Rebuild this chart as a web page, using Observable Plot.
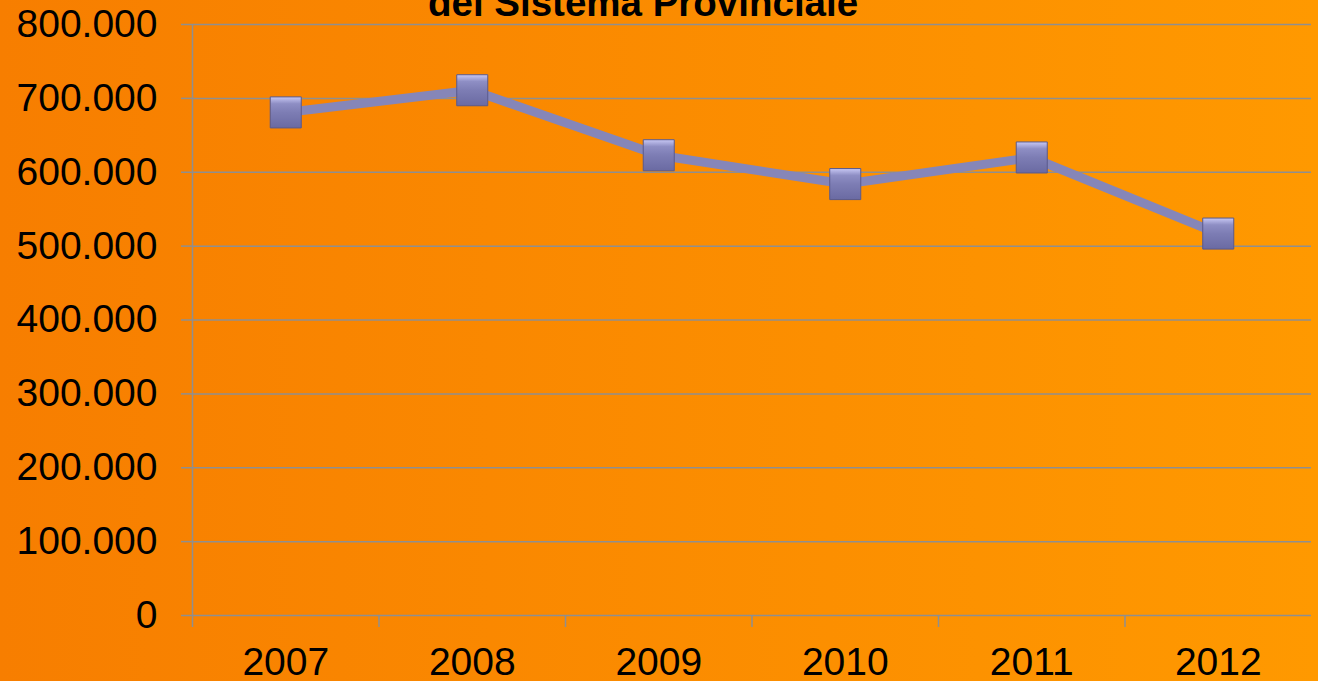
<!DOCTYPE html>
<html>
<head>
<meta charset="utf-8">
<script src="https://cdn.jsdelivr.net/npm/d3@7"></script>
<script src="https://cdn.jsdelivr.net/npm/@observablehq/plot@0.6"></script>
<style>
  html, body { margin: 0; padding: 0; width: 1318px; height: 681px; overflow: hidden; }
  body { background: linear-gradient(to right, #f77e00, #ff9900); position: relative;
         font-family: "Liberation Sans", Arial, sans-serif; }
  #title { position: absolute; left: 428px; top: -16px; font-size: 38.5px; line-height: 38px;
           font-weight: bold; color: #000; white-space: nowrap; }
  #chart { position: absolute; left: 0; top: 0; }
  svg { background: transparent !important; }
</style>
</head>
<body>
<div id="title">del Sistema Provinciale</div>
<div id="chart"></div>
<script>
const years = [2007, 2008, 2009, 2010, 2011, 2012];
const values = [681000, 711000, 623000, 584000, 620000, 517000];
const yTicks = [0, 100000, 200000, 300000, 400000, 500000, 600000, 700000, 800000];
const data = years.map((y, i) => ({year: y, value: values[i]}));
const bounds = [years[0] - 0.5, ...years.map(y => y + 0.5)];
const tickBounds = bounds.slice(0, -1);

const fmt = d3.formatLocale({thousands: ".", decimal: ",", grouping: [3], currency: ["", ""]}).format(",d");
const gridColor = "#8f8f8f";

const plot = Plot.plot({
  width: 1318,
  height: 681,
  marginLeft: 192,
  marginRight: 7,
  marginTop: 24,
  marginBottom: 66,
  style: {background: "transparent", color: "#000", fontFamily: "'Liberation Sans', Arial, sans-serif", fontSize: "39px", overflow: "visible"},
  x: {domain: [bounds[0], bounds[bounds.length - 1]]},
  y: {domain: [0, 800000]},
  marks: [
    Plot.gridY(yTicks, {stroke: gridColor, strokeOpacity: 1, strokeWidth: 1.5}),
    Plot.axisY(yTicks, {tickFormat: fmt, tickSize: 11, tickPadding: 24, stroke: gridColor, strokeWidth: 1.5, fill: "#000", fontSize: 39, label: null}),
    Plot.ruleX([bounds[0]], {y1: 0, y2: 800000, stroke: gridColor, strokeWidth: 1.5}),
    Plot.axisX(tickBounds, {tickSize: 12, tickFormat: () => "", stroke: gridColor, strokeWidth: 1.5, label: null}),
    Plot.axisX(years, {tickSize: 0, tickPadding: 32, tickFormat: d => String(d), fill: "#000", fontSize: 39, label: null}),
    Plot.line(data, {x: "year", y: "value", stroke: "#8686b8", strokeWidth: 9, strokeLinejoin: "round"}),
    Plot.dot(data, {x: "year", y: "value", symbol: "square", r: 17.5, fill: "url(#mk)", stroke: "#5a5a8c", strokeWidth: 1})
  ]
});

const ns = "http://www.w3.org/2000/svg";
const defs = document.createElementNS(ns, "defs");
defs.innerHTML = `
  <linearGradient id="mk" x1="0" y1="0" x2="0" y2="1">
    <stop offset="0" stop-color="#c8c8f4"/>
    <stop offset="0.22" stop-color="#8e8ec4"/>
    <stop offset="0.5" stop-color="#7d7db4"/>
    <stop offset="1" stop-color="#6a6aa2"/>
  </linearGradient>
  <filter id="sh" x="-50%" y="-50%" width="200%" height="200%">
    <feDropShadow dx="0" dy="4" stdDeviation="3" flood-color="#000" flood-opacity="0.35"/>
  </filter>`;
plot.insertBefore(defs, plot.firstChild);
plot.querySelectorAll("path").forEach(p => { if (p.getAttribute("fill") === "url(#mk)") p.setAttribute("filter", "url(#sh)"); });
document.getElementById("chart").appendChild(plot);
</script>
</body>
</html>
